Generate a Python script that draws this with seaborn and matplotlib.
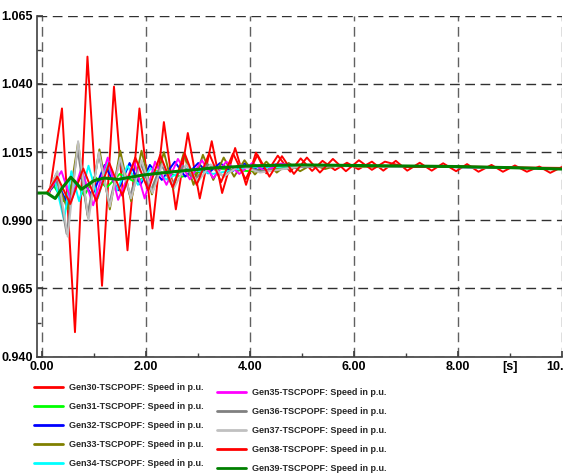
import matplotlib
matplotlib.use('Agg')
import matplotlib.pyplot as plt
from matplotlib.lines import Line2D
import pandas as pd
import seaborn as sns

# time [s] and speed [p.u.] read at the turning points of each trace
t30 = [-0.10, 0.15, 0.39, 0.64, 0.88, 1.16, 1.39, 1.65, 1.88, 2.13, 2.35, 2.58, 2.81, 3.04,
       3.27, 3.47, 3.72, 3.93, 4.12, 4.32, 4.54, 4.78, 4.98, 5.20, 5.40, 5.64, 5.87, 6.09,
       6.35, 6.57, 6.81, 7.03, 7.27, 7.50, 7.72, 7.97, 8.18, 8.40, 8.65, 8.87, 9.10, 9.33,
       9.57, 9.78, 10.0]
v30 = [1.000, 1.000, 1.031, 0.949, 1.050, 0.966, 1.039, 0.979, 1.031, 0.987, 1.026, 0.994,
       1.022, 0.998, 1.019, 1.000, 1.0165, 1.003, 1.0148, 1.0072, 1.0137, 1.0078, 1.0127,
       1.0081, 1.0118, 1.0084, 1.0111, 1.0087, 1.0115, 1.0082, 1.0118, 1.0082, 1.0111,
       1.0082, 1.0109, 1.0080, 1.0106, 1.0078, 1.0103, 1.0078, 1.0101, 1.0078, 1.0097,
       1.0074, 1.0095]

t31 = [-0.10, 0.10, 0.22, 0.42, 0.62, 0.82, 1.02, 1.25, 1.50, 1.80, 2.20, 2.70, 3.30, 4.00,
       5.00, 6.00, 8.00, 10.0]
v31 = [1.000, 1.000, 1.003, 0.997, 1.005, 0.999, 1.006, 1.002, 1.007, 1.004, 1.008, 1.006,
       1.009, 1.008, 1.0098, 1.0100, 1.0095, 1.0090]

t32 = [-0.10, 0.12, 0.30, 0.51, 0.74, 0.97, 1.21, 1.47, 1.69, 1.90, 2.08, 2.31, 2.56, 2.76,
       3.01, 3.20, 3.43, 3.65, 3.90, 4.15, 4.50, 5.00, 6.00, 8.00, 10.0]
v32 = [1.000, 1.000, 1.004, 0.9955, 1.006, 0.999, 1.0103, 1.001, 1.011, 1.003, 1.0103,
       1.0048, 1.0115, 1.006, 1.011, 1.0072, 1.011, 1.0078, 1.0108, 1.0085, 1.0105, 1.0098,
       1.0100, 1.0095, 1.0090]

t33 = [-0.10, 0.10, 0.30, 0.50, 0.70, 0.89, 1.11, 1.31, 1.51, 1.72, 1.92, 2.12, 2.35, 2.53,
       2.73, 2.92, 3.10, 3.30, 3.50, 3.70, 3.90, 4.10, 4.32, 4.52, 4.75, 4.97, 5.20, 5.45,
       5.70, 6.20, 7.00, 8.50, 10.0]
v33 = [1.000, 1.000, 1.004, 0.994, 1.0185, 0.991, 1.016, 0.994, 1.0155, 0.997, 1.0155,
       0.9995, 1.015, 1.0015, 1.0145, 1.003, 1.014, 1.0048, 1.013, 1.006, 1.012, 1.0068,
       1.0115, 1.0075, 1.011, 1.008, 1.0105, 1.0088, 1.0102, 1.0095, 1.0098, 1.0095, 1.0090]

t34 = [-0.10, 0.12, 0.25, 0.43, 0.57, 0.72, 0.90, 1.08, 1.27, 1.45, 1.65, 1.85, 2.10, 2.40,
       2.80, 3.30, 4.00, 5.00, 6.00, 8.00, 10.0]
v34 = [1.000, 1.000, 1.005, 0.990, 1.008, 0.997, 1.010, 0.998, 1.011, 1.001, 1.010, 1.003,
       1.009, 1.005, 1.009, 1.007, 1.0095, 1.0098, 1.0100, 1.0095, 1.0090]

t35 = [-0.10, 0.12, 0.38, 0.57, 0.76, 0.99, 1.27, 1.47, 1.78, 1.98, 2.18, 2.40, 2.62, 2.85,
       3.08, 3.30, 3.55, 3.80, 4.05, 4.30, 4.60, 5.00, 6.00, 8.00, 10.0]
v35 = [1.000, 1.000, 1.008, 0.997, 1.009, 0.9955, 1.013, 0.9975, 1.0115, 0.998, 1.0115,
       1.003, 1.0125, 1.005, 1.012, 1.0055, 1.0115, 1.007, 1.011, 1.008, 1.0108, 1.0098,
       1.0100, 1.0095, 1.0090]

t36 = [-0.10, 0.12, 0.28, 0.48, 0.69, 0.88, 1.10, 1.30, 1.50, 1.70, 1.90, 2.10, 2.30, 2.50,
       2.72, 2.95, 3.20, 3.50, 3.80, 4.20, 5.00, 6.00, 8.00, 10.0]
v36 = [1.000, 1.000, 1.007, 0.985, 1.016, 0.992, 1.014, 0.996, 1.012, 0.999, 1.011, 1.001,
       1.0105, 1.003, 1.010, 1.005, 1.0105, 1.006, 1.0105, 1.008, 1.0095, 1.0100, 1.0095,
       1.0090]

t37 = [-0.10, 0.12, 0.30, 0.50, 0.70, 0.90, 1.10, 1.31, 1.51, 1.72, 1.92, 2.13, 2.33, 2.55,
       2.78, 3.00, 3.25, 3.50, 3.80, 4.20, 5.00, 6.00, 8.00, 10.0]
v37 = [1.000, 1.000, 1.008, 0.984, 1.019, 0.990, 1.015, 0.995, 1.013, 0.998, 1.012, 1.000,
       1.011, 1.002, 1.0105, 1.004, 1.0105, 1.006, 1.010, 1.0075, 1.0098, 1.0098, 1.0095,
       1.0090]

t38 = [-0.10, 0.10, 0.30, 0.55, 0.80, 1.05, 1.30, 1.55, 1.80, 2.05, 2.28, 2.52, 2.75, 2.98,
       3.22, 3.45, 3.68, 3.92, 4.15, 4.38, 4.62, 4.85, 5.10, 5.35, 5.60, 5.85, 6.10, 6.35,
       6.60, 7.00, 8.00, 9.00, 10.0]
v38 = [1.000, 1.000, 1.006, 0.996, 1.009, 0.997, 1.011, 0.999, 1.013, 1.001, 1.014, 1.002,
       1.0145, 1.003, 1.0145, 1.004, 1.0145, 1.005, 1.014, 1.006, 1.0135, 1.007, 1.013,
       1.0075, 1.0125, 1.008, 1.012, 1.0085, 1.0115, 1.0095, 1.0098, 1.0094, 1.0092]

t39 = [-0.10, 0.10, 0.26, 0.40, 0.56, 0.77, 1.00, 1.20, 1.47, 1.95, 2.53, 3.30, 4.07, 4.97,
       6.00, 7.00, 8.00, 9.00, 10.0]
v39 = [1.000, 1.000, 0.998, 1.002, 1.0058, 1.0014, 1.0045, 1.0055, 1.0050, 1.0066, 1.0078,
       1.0092, 1.0100, 1.0103, 1.0101, 1.0099, 1.0097, 1.0093, 1.0088]

gens = ['Gen30', 'Gen31', 'Gen32', 'Gen33', 'Gen34', 'Gen35', 'Gen36', 'Gen37', 'Gen38', 'Gen39']
colors = ['#ff0000', '#00ff00', '#0000ff', '#808000', '#00ffff',
          '#ff00ff', '#808080', '#c0c0c0', '#ff0000', '#008000']
times = [t30, t31, t32, t33, t34, t35, t36, t37, t38, t39]
speeds = [v30, v31, v32, v33, v34, v35, v36, v37, v38, v39]

x_ticks = [0, 2, 4, 6, 8, 10]
y_ticks = [0.940, 0.965, 0.990, 1.015, 1.040, 1.065]


def build_frame():
    parts = []
    for g, t, v in zip(gens, times, speeds):
        parts.append(pd.DataFrame({'t': t, 'speed': v, 'gen': g}))
    return pd.concat(parts, ignore_index=True)


sns.set_theme(style='white')
plt.rcParams['font.family'] = ['Liberation Sans', 'DejaVu Sans']
plt.rcParams['font.weight'] = 'bold'
plt.rcParams['font.size'] = 9

legend_font = {'family': 'Liberation Sans', 'weight': 'bold', 'size': 6.5}

df = build_frame()
palette = dict(zip(gens, colors))

fig = plt.figure(figsize=(5.63, 4.74), dpi=100)
ax = fig.add_axes([36.7 / 563, 1 - 356.7 / 474, 525 / 563, 341 / 474])

sns.lineplot(data=df[df.gen != 'Gen39'], x='t', y='speed', hue='gen', hue_order=gens[:-1],
             palette=palette, estimator=None, sort=False, lw=1.4, legend=False, ax=ax)
sns.lineplot(data=df[df.gen == 'Gen39'], x='t', y='speed', color=palette['Gen39'],
             estimator=None, sort=False, lw=2.2, legend=False, ax=ax)

ax.set_xlim(-0.096, 10.0)
ax.set_ylim(0.940, 1.065)
ax.set_xlabel('')
ax.set_ylabel('')

ax.set_xticks(x_ticks)
ax.set_xticklabels([f'{x:.2f}' for x in x_ticks])
ax.set_xticks([1, 3, 5, 7, 9], minor=True)
ax.set_xticklabels(['', '', '', '', '[s]'], minor=True)
ax.set_yticks(y_ticks)
ax.set_yticklabels([f'{y:.3f}' for y in y_ticks])
ax.set_yticks([0.9525, 0.9775, 1.0025, 1.0275, 1.0525], minor=True)

ax.set_axisbelow(True)
ax.grid(True, which='major', axis='y', color='#303030', ls=(0, (7, 4)), lw=1.0)
ax.grid(True, which='major', axis='x', color='#606060', ls=(0, (7, 4)), lw=1.0)

for side in ['top', 'right']:
    ax.spines[side].set_visible(False)
for side in ['left', 'bottom']:
    ax.spines[side].set_color('#404040')
    ax.spines[side].set_linewidth(1.2)

ax.tick_params(which='major', direction='in', length=4, color='#404040', pad=3,
               labelsize=9, labelcolor='black')
ax.tick_params(which='minor', direction='in', length=3, color='#404040', pad=3,
               labelsize=9, labelcolor='black')
ax.tick_params(axis='x', which='both', bottom=True)
ax.tick_params(axis='y', which='both', left=True)
for lab in ax.get_xticklabels(which='both') + ax.get_yticklabels():
    lab.set_fontweight('bold')

handles = [Line2D([0], [0], color=c, lw=2.0) for c in colors]
labels = [f'{g}-TSCPOPF: Speed in p.u.' for g in gens]

leg_kw = dict(frameon=False, loc='upper left', prop=legend_font, handlelength=3.2,
              handletextpad=0.66, labelspacing=1.12, borderpad=0, borderaxespad=0)
fig.legend(handles[:5], labels[:5], bbox_to_anchor=(34 / 563, 1 - 383 / 474), **leg_kw)
fig.legend(handles[5:], labels[5:], bbox_to_anchor=(217 / 563, 1 - 388 / 474), **leg_kw)

fig.savefig('out.png', dpi=100)
